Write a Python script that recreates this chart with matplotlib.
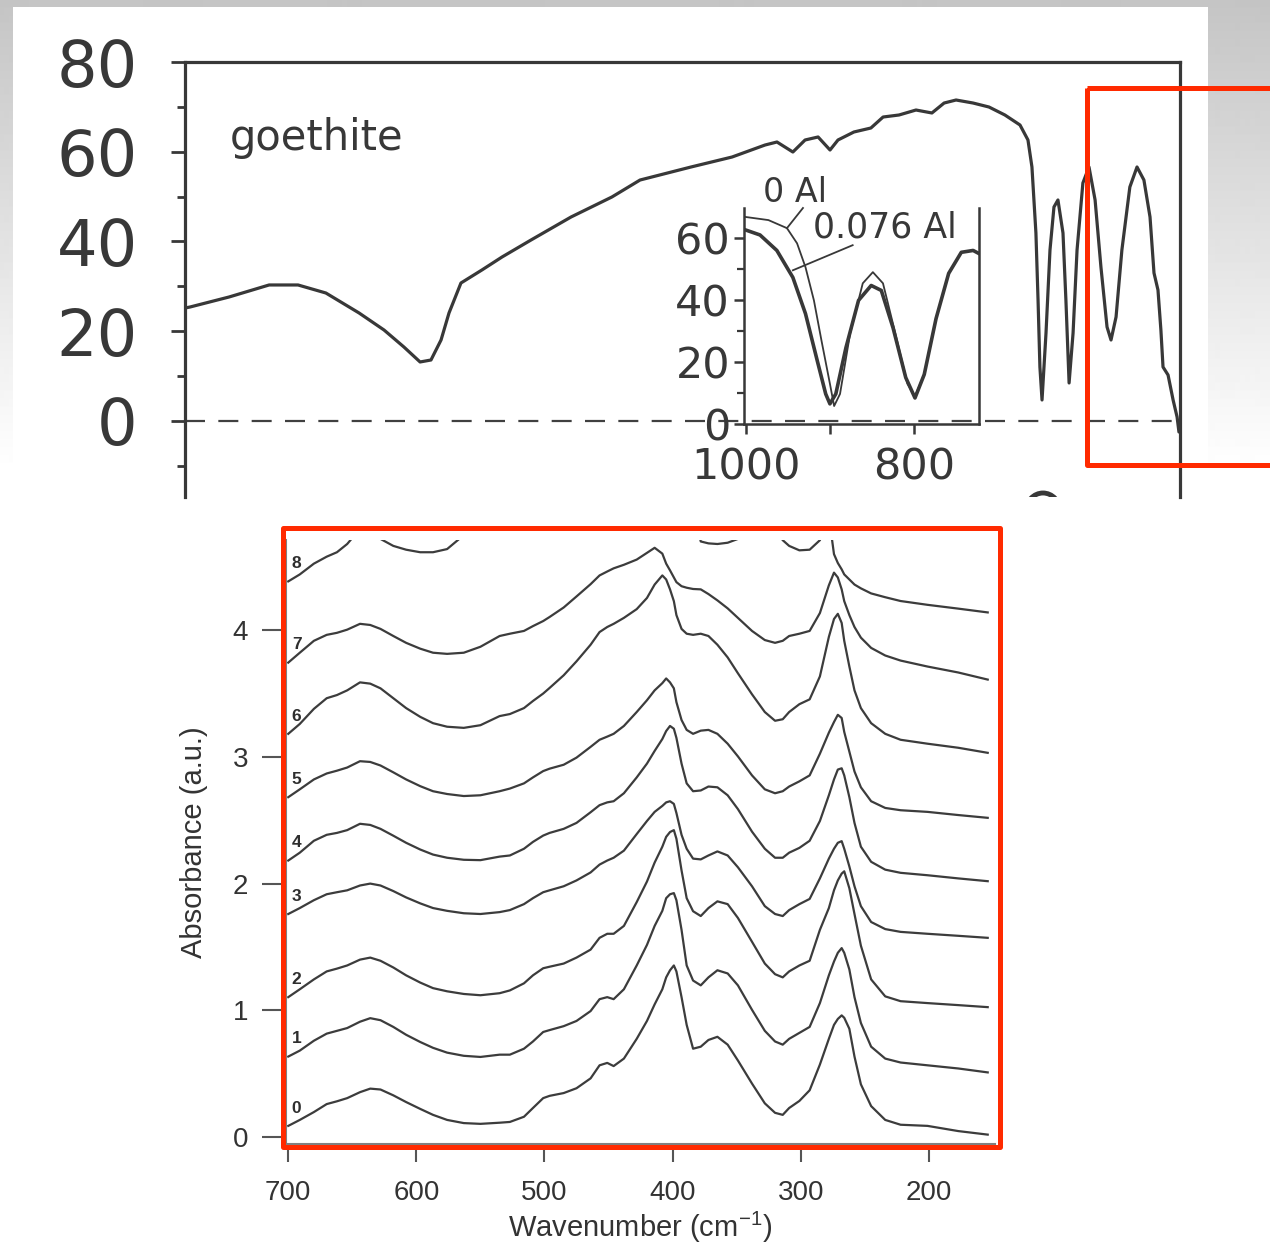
import numpy as np
import matplotlib
matplotlib.use("Agg")
import matplotlib.pyplot as plt
from matplotlib.patches import Rectangle, Ellipse
from matplotlib.ticker import MultipleLocator

W, H, DPI = 1270, 1249, 100
INK = "#383838"

# ---------------- goethite transmission spectrum (top panel) ----------------
goe_wavenumber = [4000, 3981, 3834, 3683, 3574, 3469, 3344, 3250, 3175, 3114, 3073, 3035,
                  3005, 2960, 2881, 2805, 2696, 2545, 2391, 2285, 2093, 1938, 1814, 1769,
                  1709, 1663, 1614, 1569, 1539, 1479, 1415, 1369, 1309, 1245, 1185, 1139,
                  1094, 1030, 970, 910, 853, 823, 808, 793, 785, 778, 770, 755, 740, 725,
                  710, 691, 680, 668, 653, 638, 616, 593, 570, 548, 525, 510, 491, 469,
                  439, 412, 386, 363, 348, 333, 322, 314, 295, 276, 261, 254]
goe_transmission = [25.18, 25.40, 27.63, 30.31, 30.31, 28.52, 24.07, 20.28, 16.49, 13.15,
                    13.59, 18.05, 24.07, 30.75, 33.65, 36.55, 40.33, 45.46, 49.92, 53.70,
                    56.60, 58.83, 61.50, 62.17, 59.94, 62.62, 63.29, 60.39, 62.62, 64.40,
                    65.29, 67.74, 68.19, 69.30, 68.64, 70.86, 71.53, 70.86, 69.97, 68.19,
                    65.96, 62.62, 56.60, 41.89, 26.96, 12.03, 4.68, 19.61, 38.11, 47.69,
                    49.25, 41.89, 26.96, 8.47, 19.61, 38.11, 53.04, 56.60, 49.25, 34.32,
                    20.95, 18.05, 23.18, 38.11, 52.14, 56.60, 53.70, 45.46, 32.98, 29.19,
                    20.28, 12.03, 10.25, 4.68, 0.89, -2.45]

# inset: OH-bending region, pure vs Al-substituted goethite
inset_wn_0al = [1000, 973, 951, 939, 929, 919, 910, 900, 895, 888, 876, 861, 849, 837,
                823, 808, 799, 788, 774, 759, 744, 730, 723]
inset_t_0al = [66.8, 65.8, 63.2, 58.3, 50.6, 39.9, 26.9, 13.0, 5.8, 9.7, 29.2, 45.4, 49.0,
               45.4, 30.0, 13.0, 9.0, 16.0, 34.0, 48.6, 55.4, 56.0, 55.0]
inset_wn_al = [1000, 983, 963, 944, 929, 915, 905, 900, 893, 881, 866, 851, 839, 825,
               810, 799, 788, 774, 759, 744, 730, 723]
inset_t_al = [62.6, 61.0, 56.0, 47.3, 35.6, 20.4, 9.7, 6.5, 9.7, 24.6, 39.9, 44.7, 43.1,
              31.0, 15.0, 8.4, 16.0, 34.0, 48.6, 55.4, 56.0, 55.0]

# ---------------- far-IR absorbance stack (bottom panel) ----------------
wavenumber = [700, 691, 680, 670, 662, 654, 644, 636, 628, 618, 608, 597, 587, 576, 563, 550, 535,
              527, 516, 509, 501, 496, 485, 475, 464, 457, 451, 446, 438, 428, 420, 414, 408, 405,
              402, 399, 397, 393, 389, 384,
              378, 372, 365, 357, 349, 338, 328, 320, 314, 309, 301, 293, 285, 278, 274, 271, 268,
              266, 262, 258, 253, 245, 234, 222, 201, 177, 154]

absorbance_0 = [0.088, 0.135, 0.197, 0.260, 0.282, 0.307, 0.354, 0.382, 0.375, 0.329, 0.276, 0.222,
                0.175, 0.135, 0.110, 0.104, 0.113,
                0.119, 0.160, 0.229, 0.307, 0.325, 0.347, 0.385, 0.463, 0.566, 0.585, 0.560, 0.619,
                0.775, 0.916, 1.047, 1.166, 1.260, 1.316, 1.354, 1.307, 1.104, 0.885, 0.697,
                0.713, 0.766, 0.791, 0.729, 0.604, 0.422, 0.266, 0.191, 0.175, 0.229, 0.285, 0.369,
                0.572, 0.775, 0.885, 0.932, 0.960, 0.941, 0.854, 0.635, 0.416, 0.244, 0.135, 0.097,
                0.088, 0.047, 0.019]
absorbance_1 = [0.635, 0.682, 0.760, 0.816, 0.838, 0.860, 0.910, 0.938, 0.922, 0.869, 0.807, 0.750,
                0.704, 0.666, 0.641, 0.632, 0.650,
                0.650, 0.697, 0.754, 0.829, 0.844, 0.875, 0.916, 0.994, 1.088, 1.104, 1.088, 1.166,
                1.354, 1.516, 1.666, 1.785, 1.885, 1.916, 1.925, 1.869, 1.635, 1.354, 1.235,
                1.197, 1.260, 1.316, 1.291, 1.197, 1.004, 0.838, 0.754, 0.729, 0.775, 0.822, 0.869,
                1.057, 1.276, 1.385, 1.454, 1.491, 1.454, 1.322, 1.104, 0.900, 0.713, 0.619, 0.588,
                0.566, 0.541, 0.510]
absorbance_2 = [1.104, 1.166, 1.244, 1.307, 1.329, 1.354, 1.400, 1.416, 1.391, 1.338, 1.276, 1.219,
                1.175, 1.150, 1.129, 1.119, 1.135,
                1.157, 1.213, 1.276, 1.332, 1.344, 1.369, 1.416, 1.479, 1.572, 1.604, 1.604, 1.666,
                1.854, 2.016, 2.166, 2.291, 2.369, 2.407, 2.422, 2.354, 2.104, 1.885, 1.782,
                1.744, 1.807, 1.860, 1.838, 1.729, 1.541, 1.369, 1.285, 1.260, 1.307, 1.354, 1.391,
                1.635, 1.807, 1.947, 2.025, 2.079, 2.097, 1.963, 1.760, 1.510, 1.244, 1.110, 1.072,
                1.057, 1.041, 1.025]
absorbance_3 = [1.760, 1.807, 1.869, 1.916, 1.932, 1.947, 1.985, 2.000, 1.985, 1.941, 1.891, 1.844,
                1.807, 1.785, 1.766, 1.760, 1.775,
                1.791, 1.838, 1.885, 1.932, 1.947, 1.979, 2.025, 2.088, 2.150, 2.182, 2.204, 2.260,
                2.391, 2.494, 2.566, 2.613, 2.641, 2.650, 2.629, 2.557, 2.385, 2.275, 2.197,
                2.191, 2.222, 2.254, 2.222, 2.129, 1.979, 1.822, 1.760, 1.744, 1.791, 1.838, 1.879,
                2.041, 2.197, 2.275, 2.322, 2.335, 2.275, 2.135, 1.979, 1.822, 1.697, 1.641, 1.619,
                1.604, 1.588, 1.572]
absorbance_4 = [2.182, 2.244, 2.338, 2.385, 2.400, 2.422, 2.472, 2.463, 2.432, 2.378, 2.322, 2.269,
                2.229, 2.204, 2.188, 2.185, 2.213,
                2.222, 2.275, 2.329, 2.379, 2.400, 2.432, 2.479, 2.563, 2.619, 2.641, 2.650, 2.713,
                2.838, 2.947, 3.047, 3.141, 3.204, 3.244, 3.222, 3.150, 2.947, 2.791, 2.729,
                2.735, 2.766, 2.760, 2.697, 2.588, 2.410, 2.275, 2.204, 2.204, 2.244, 2.282, 2.338,
                2.494, 2.697, 2.822, 2.900, 2.910, 2.854, 2.682, 2.479, 2.291, 2.172, 2.110, 2.085,
                2.066, 2.041, 2.019]
absorbance_5 = [2.682, 2.744, 2.822, 2.869, 2.891, 2.916, 2.966, 2.960, 2.932, 2.878, 2.822, 2.769,
                2.729, 2.707, 2.691, 2.697, 2.729,
                2.750, 2.791, 2.838, 2.888, 2.907, 2.938, 2.994, 3.079, 3.135, 3.160, 3.182, 3.244,
                3.354, 3.447, 3.525, 3.582, 3.619, 3.588, 3.541, 3.432, 3.291, 3.213, 3.182,
                3.207, 3.213, 3.182, 3.104, 3.004, 2.854, 2.744, 2.713, 2.729, 2.766, 2.807, 2.854,
                3.025, 3.191, 3.275, 3.332, 3.307, 3.197, 3.041, 2.885, 2.760, 2.650, 2.597, 2.579,
                2.566, 2.541, 2.519]
absorbance_6 = [3.182, 3.260, 3.379, 3.463, 3.488, 3.525, 3.588, 3.578, 3.541, 3.463, 3.385, 3.316,
                3.266, 3.238, 3.229, 3.250, 3.322,
                3.338, 3.385, 3.441, 3.500, 3.544, 3.644, 3.754, 3.885, 3.985, 4.025, 4.050, 4.097,
                4.166, 4.254, 4.360, 4.432, 4.400, 4.322, 4.229, 4.119, 4.010, 3.972, 3.963,
                3.972, 3.954, 3.885, 3.785, 3.660, 3.494, 3.354, 3.285, 3.297, 3.354, 3.416, 3.454,
                3.635, 3.947, 4.088, 4.129, 4.057, 3.916, 3.713, 3.525, 3.385, 3.266, 3.182, 3.135,
                3.104, 3.072, 3.032]
absorbance_7 = [3.744, 3.822, 3.916, 3.963, 3.979, 4.004, 4.050, 4.041, 4.010, 3.954, 3.900, 3.854,
                3.822, 3.813, 3.822, 3.869, 3.954,
                3.972, 3.994, 4.032, 4.072, 4.104, 4.179, 4.266, 4.363, 4.432, 4.463, 4.488, 4.516,
                4.557, 4.610, 4.650, 4.604, 4.525, 4.472, 4.416, 4.379, 4.347, 4.335, 4.325,
                4.322, 4.285, 4.235, 4.172, 4.097, 3.994, 3.922, 3.900, 3.916, 3.954, 3.972, 3.994,
                4.135, 4.354, 4.454, 4.416, 4.322, 4.229, 4.119, 4.025, 3.941, 3.860, 3.800, 3.760,
                3.713, 3.666, 3.610]
absorbance_8 = [4.385, 4.440, 4.525, 4.580, 4.615, 4.680, 4.800, 4.820, 4.720, 4.665, 4.635, 4.615,
                4.615, 4.640, 4.750, 4.850, 4.920,
                4.950, 5.000, 5.050, 5.100, 5.120, 5.160, 5.200, 5.250, 5.300, 5.320, 5.330, 5.360,
                5.400, 5.450, 5.480, 5.450, 5.400, 5.350, 5.300, 5.250, 5.150, 5.050, 4.950,
                4.700, 4.685, 4.680, 4.690, 4.720, 4.850, 4.900, 4.800, 4.710, 4.665, 4.630, 4.635,
                4.710, 4.900, 4.600, 4.530, 4.480, 4.440, 4.400, 4.360, 4.330, 4.290, 4.260, 4.230,
                4.200, 4.170, 4.140]

spectra = [absorbance_0, absorbance_1, absorbance_2, absorbance_3, absorbance_4,
           absorbance_5, absorbance_6, absorbance_7, absorbance_8]
sample_labels = ["0", "1", "2", "3", "4", "5", "6", "7", "8"]

plt.rcParams["mathtext.default"] = "regular"

fig = plt.figure(figsize=(W / DPI, H / DPI), dpi=DPI)


def rect(l, t, r, b):
    """Axes rectangle from pixel edges (origin top-left)."""
    return [l / W, 1 - b / H, (r - l) / W, (b - t) / H]


# ---------------- page background ----------------
bg = fig.add_axes([0, 0, 1, 1], zorder=0)
bg.set_xlim(0, W)
bg.set_ylim(H, 0)
bg.axis("off")
rows = np.arange(H)
shade = np.clip(0.77 + 0.23 * rows / 470.0, 0, 1)[:, None]
bg.imshow(shade, cmap="gray", vmin=0, vmax=1, extent=[0, W, H, 0],
          aspect="auto", interpolation="bilinear")
sheet = Rectangle((13, 7), 1195, 490, facecolor="white", edgecolor="none")
bg.add_patch(sheet)
ring = Ellipse((1043, 511), 34, 36, fill=False, edgecolor=INK, lw=3.5)
bg.add_patch(ring)
ring.set_clip_path(sheet)

# ---------------- top panel: goethite ----------------
ax = fig.add_axes(rect(185, 62, 1180, 497), zorder=1)
ax.set_facecolor("none")
ax.plot(goe_wavenumber, goe_transmission, color=INK, lw=2.3,
        solid_joinstyle="round", solid_capstyle="round")
ax.axhline(0, color="#404040", lw=1.6, dashes=(9, 6))
ax.set_xlim(4000, 250)
ax.set_ylim(-16.94, 80)
for side in ("top", "left", "right"):
    ax.spines[side].set_linewidth(2.3)
    ax.spines[side].set_color(INK)
ax.spines["bottom"].set_visible(False)
ax.set_xticks([])
ax.yaxis.set_major_locator(MultipleLocator(20))
ax.yaxis.set_minor_locator(MultipleLocator(10))
ax.tick_params(axis="y", which="major", direction="out", length=10, width=2,
               color=INK, labelcolor=INK, labelsize=46, pad=24)
ax.tick_params(axis="y", which="minor", direction="out", length=6, width=2, color=INK)
ax.text(3503, 63.1, "goethite", fontsize=30, color=INK, ha="center", va="center")

# inset
ins = fig.add_axes(rect(744, 208, 979, 424), zorder=2)
ins.set_facecolor("none")
ins.plot(inset_wn_0al, inset_t_0al, color=INK, lw=1.3, solid_joinstyle="round")
ins.plot(inset_wn_al, inset_t_al, color=INK, lw=2.6, solid_joinstyle="round")
ins.set_xlim(1002, 723)
ins.set_ylim(0, 69.7)
ins.spines["top"].set_visible(False)
for side in ("left", "bottom", "right"):
    ins.spines[side].set_linewidth(1.8)
    ins.spines[side].set_color(INK)
ins.set_xticks([1000, 900, 800])
ins.set_xticklabels(["1000", "", "800"])
ins.set_yticks([0, 20, 40, 60])
ins.set_yticks([10, 30, 50], minor=True)
ins.tick_params(axis="both", which="major", direction="out", length=7, width=1.8,
                color=INK, labelcolor=INK, labelsize=31)
ins.tick_params(axis="y", which="major", pad=3)
ins.tick_params(axis="x", which="major", pad=9)
ins.tick_params(axis="y", which="minor", direction="out", length=5, width=1.6, color=INK)
ins.plot([932, 951], [69.7, 63.2], color=INK, lw=1.3, clip_on=False)
ins.plot([873, 944], [57.7, 49.6], color=INK, lw=1.3, clip_on=False)
ins.text(941.7, 74.6, "0 Al", fontsize=24, color=INK, ha="center", va="center", clip_on=False)
ins.text(834.5, 63.5, "0.076 Al", fontsize=25, color=INK, ha="center", va="center",
         clip_on=False)

# ---------------- bottom panel: absorbance stack ----------------
SANS = ["Liberation Sans", "DejaVu Sans"]
bx = fig.add_axes(rect(285.7, 540.2, 995.4, 1144), zorder=1)
bx.set_facecolor("none")
for lab, spec in zip(sample_labels, spectra):
    bx.plot(wavenumber, spec, color="#3c3c3c", lw=1.6, solid_joinstyle="round")
    bx.text(693.5, spec[0] + 0.14, lab, fontsize=12.5, fontweight="bold",
            color="#2e2e2e", ha="center", va="center", family=SANS)
bx.set_xlim(702, 148)
bx.set_ylim(-0.055, 4.71)
bx.spines["top"].set_visible(False)
bx.spines["right"].set_visible(False)
for side in ("left", "bottom"):
    bx.spines[side].set_color("#808080")
    bx.spines[side].set_linewidth(1.5)
bx.set_xticks([700, 600, 500, 400, 300, 200])
bx.set_yticks([0, 1, 2, 3, 4])
bx.tick_params(axis="x", direction="out", length=13, width=1.5, color="#555555",
               labelcolor="#333333", labelsize=20, pad=13)
bx.tick_params(axis="y", direction="out", length=17, width=1.5, color="#555555",
               labelcolor="#333333", labelsize=20, pad=10)
for lbl in bx.get_xticklabels() + bx.get_yticklabels():
    lbl.set_family(SANS)
bx.set_xlabel(r"Wavenumber (cm$^{-1}$)", fontsize=21, color="#333333", family=SANS, labelpad=3)
bx.set_ylabel("Absorbance (a.u.)", fontsize=21, color="#333333", family=SANS, labelpad=18)

# ---------------- highlight frames ----------------
ov = fig.add_axes([0, 0, 1, 1], zorder=5)
ov.set_xlim(0, W)
ov.set_ylim(H, 0)
ov.axis("off")
ov.patch.set_alpha(0)
RED = "#ff2a00"
ov.add_patch(Rectangle((1087, 88), 300, 377, fill=False, edgecolor=RED, lw=3.6,
                       joinstyle="round"))
ov.add_patch(Rectangle((283, 527.5), 717, 619, fill=False, edgecolor=RED, lw=3.6,
                       joinstyle="round"))

fig.savefig("out.png", dpi=DPI)
